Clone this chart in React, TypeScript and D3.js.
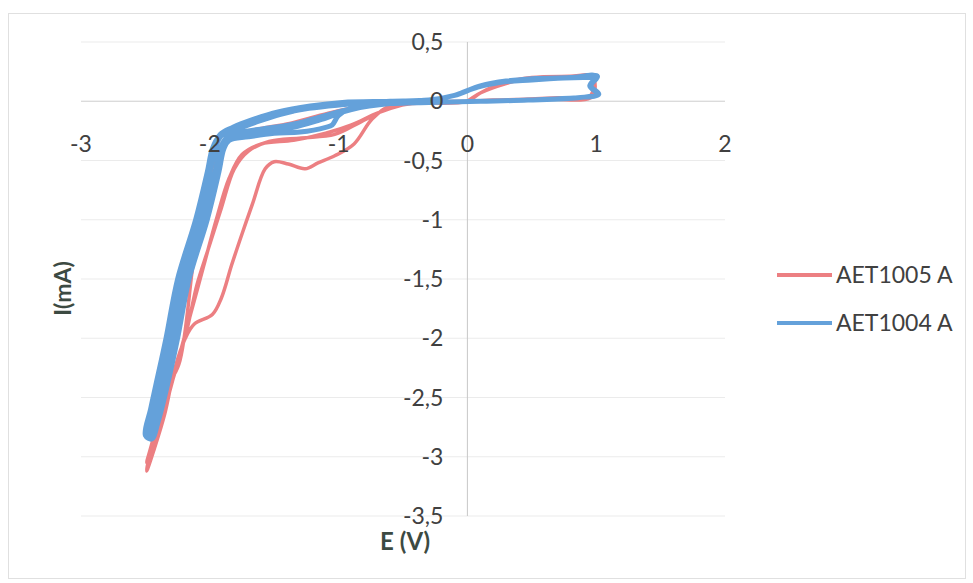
import React from "react";
import * as d3 from "d3";

// tick values / labels
const xTicks = [-3, -2, -1, 0, 1, 2];
const yTicks = [0.5, 0, -0.5, -1, -1.5, -2, -2.5, -3, -3.5];
const seriesNames = ["AET1005 A", "AET1004 A"];
const seriesColors = ["#ec7f82", "#64a1da"];

// AET1005 A : E (V) and I (mA)
const redE = [
  0, 0.1, 0.3, 0.5, 0.8, 0.97, 0.95, 0.7, 0.3, 0, -0.3, -0.5,
  -0.59, -0.74, -0.88, -1.03, -1.16, -1.26, -1.39, -1.5, -1.57, -1.67, -1.75, -1.83, -1.91, -1.98, -2.12, -2.19, -2.27, -2.35, -2.43, -2.49,
  -2.43, -2.36, -2.29, -2.18, -2.1, -2.01, -1.91, -1.81, -1.7, -1.54, -1.29, -1.03, -0.82, -0.61, -0.43, 0,
  0.1, 0.3, 0.5, 0.8, 0.97, 0.97, 0.6, 0.2, 0, -0.4,
  -0.5, -0.7, -0.9, -1.1, -1.35, -1.6, -1.75, -1.85, -1.95, -2.05, -2.15, -2.25, -2.35, -2.45, -2.49,
  -2.44, -2.35, -2.24, -2.12, -2.02, -1.95, -1.85, -1.6, -1.39, -1.08, -0.8, -0.5, 0,
];
const redI = [
  0, 0.07, 0.15, 0.2, 0.21, 0.21, 0.04, 0.03, 0.01, 0, -0.01, -0.02,
  -0.03, -0.15, -0.36, -0.46, -0.52, -0.57, -0.53, -0.51, -0.57, -0.87, -1.12, -1.38, -1.66, -1.8, -1.88, -2.0, -2.25, -2.64, -2.93, -3.12,
  -2.81, -2.58, -2.36, -1.94, -1.55, -1.24, -0.9, -0.57, -0.42, -0.34, -0.31, -0.28, -0.17, -0.06, -0.02, 0,
  0.07, 0.16, 0.2, 0.21, 0.21, 0.04, 0.02, 0.01, 0, -0.01,
  -0.03, -0.1, -0.2, -0.27, -0.33, -0.36, -0.45, -0.65, -1.0, -1.4, -1.8, -2.2, -2.6, -2.95, -3.05,
  -2.85, -2.45, -2.22, -1.3, -0.75, -0.45, -0.3, -0.23, -0.19, -0.1, -0.04, -0.01, 0,
];

// AET1004 A : three overlapping cycles
const blueE = [
  // cycle 1
  0.86, 0.47, 0.1, -0.3, -0.6, -0.9, -1.0, -1.05, -1.1, -1.3, -1.5, -1.7, -1.85,
  -1.89, -1.93, -2.02, -2.16, -2.25, -2.33, -2.4, -2.45,
  -2.5, -2.46, -2.42, -2.34, -2.25, -2.11, -2.02, -1.98, -1.93, -1.83, -1.7, -1.5, -1.23, -0.98, -0.6, -0.3,
  -0.1, 0.08, 0.26, 0.5, 0.8, 1.01, 0.96, 1.02, 0.86,
  // cycle 2
  0.47, 0.1, -0.3, -0.6, -0.9, -1.15, -1.35, -1.55, -1.75, -1.87,
  -1.92, -1.96, -2.05, -2.19, -2.28, -2.36, -2.42, -2.46,
  -2.48, -2.44, -2.4, -2.32, -2.23, -2.09, -2.0, -1.96, -1.91, -1.8, -1.65, -1.45, -1.2, -0.95, -0.6, -0.3,
  -0.1, 0.08, 0.26, 0.5, 0.8, 1.0, 0.95, 1.01, 0.86,
  // cycle 3
  0.47, 0.1, -0.3, -0.6, -0.85, -1.1, -1.3, -1.5, -1.7, -1.86,
  -1.9, -1.95, -2.06, -2.2, -2.29, -2.38, -2.44, -2.48,
  -2.49, -2.45, -2.41, -2.33, -2.24, -2.1, -2.01, -1.97, -1.92, -1.82, -1.68, -1.47, -1.22, -0.97, -0.6, -0.3,
  -0.1, 0.1, 0.3, 0.6, 0.9, 1.0,
];
const blueI = [
  // cycle 1
  0.03, 0.01, 0.0, -0.01, -0.02, -0.06, -0.12, -0.2, -0.22, -0.26, -0.27, -0.3, -0.33,
  -0.4, -0.6, -1.0, -1.5, -2.0, -2.4, -2.7, -2.85,
  -2.82, -2.6, -2.4, -2.0, -1.5, -1.0, -0.6, -0.4, -0.3, -0.26, -0.2, -0.12, -0.06, -0.03, 0.0, 0.01,
  0.05, 0.12, 0.16, 0.19, 0.2, 0.21, 0.13, 0.06, 0.03,
  // cycle 2
  0.01, 0.0, -0.01, -0.02, -0.07, -0.16, -0.22, -0.25, -0.28, -0.31,
  -0.4, -0.6, -1.0, -1.5, -2.0, -2.4, -2.65, -2.82,
  -2.8, -2.6, -2.4, -2.0, -1.5, -1.0, -0.6, -0.4, -0.29, -0.24, -0.18, -0.11, -0.05, -0.02, 0.0, 0.01,
  0.05, 0.12, 0.16, 0.18, 0.2, 0.21, 0.13, 0.06, 0.03,
  // cycle 3
  0.01, 0.0, -0.01, -0.02, -0.05, -0.12, -0.18, -0.22, -0.25, -0.29,
  -0.4, -0.6, -1.0, -1.5, -2.0, -2.4, -2.65, -2.8,
  -2.78, -2.6, -2.4, -2.0, -1.5, -1.0, -0.6, -0.4, -0.28, -0.22, -0.16, -0.09, -0.04, -0.01, 0.0, 0.01,
  0.05, 0.13, 0.17, 0.19, 0.2, 0.2,
];

const W = 973;
const H = 583;
const font = "Lato, 'Open Sans', sans-serif";
const textColor = "#404040";

export default function App() {
  const x = d3.scaleLinear().domain([-3, 2]).range([81, 725]);
  const y = d3.scaleLinear().domain([0.5, -3.5]).range([42, 516]);

  const line = d3
    .line<[number, number]>()
    .x((d) => x(d[0]))
    .y((d) => y(d[1]))
    .curve(d3.curveCatmullRom.alpha(0.5));

  const red = redE.map((e, i) => [e, redI[i]] as [number, number]);
  const blue = blueE.map((e, i) => [e, blueI[i]] as [number, number]);

  return (
    <div style={{ position: "absolute", left: 0, top: 0 }}>
      <svg width={W} height={H} style={{ display: "block", background: "#fff" }}>
        <rect x={8.5} y={13.5} width={957} height={565} fill="none" stroke="#e0e0e0" />

        {/* gridlines */}
        <g stroke="#ebebeb" strokeWidth={1}>
          {yTicks.map((t) => (
            <line key={t} x1={x(-3)} x2={x(2)} y1={y(t)} y2={y(t)} />
          ))}
        </g>

        {/* axes crossing at the origin */}
        <line x1={x(0)} x2={x(0)} y1={y(0.5)} y2={y(-3.5)} stroke="#c8c8c8" />
        <line x1={x(-3)} x2={x(2)} y1={y(0)} y2={y(0)} stroke="#d4d4d4" />

        {/* series */}
        <path d={line(red) || ""} fill="none" stroke={seriesColors[0]} strokeWidth={3.5} strokeLinejoin="round" />
        <path d={line(blue) || ""} fill="none" stroke={seriesColors[1]} strokeWidth={5} strokeLinejoin="round" />

        {/* tick labels */}
        <g fontFamily={font} fontSize={23} fill={textColor}>
          {yTicks.map((t) => (
            <text key={t} x={x(0) - 24} y={y(t) + 8} textAnchor="end">
              {d3.format(".1~f")(t).replace(".", ",").replace("−", "-")}
            </text>
          ))}
          {xTicks.map((t) => (
            <text key={t} x={x(t)} y={152} textAnchor="middle">
              {String(t)}
            </text>
          ))}
        </g>

        {/* axis titles */}
        <text
          transform={`translate(71,${y(-1.58)}) rotate(-90)`}
          textAnchor="middle"
          fontFamily={font}
          fontSize={23}
          fontWeight="bold"
          fill="#3c4a42"
        >
          I(mA)
        </text>
        <text x={405} y={550} textAnchor="middle" fontFamily={font} fontSize={24} fontWeight="bold" fill="#3c4a42">
          E (V)
        </text>

        {/* legend */}
        {seriesNames.map((n, i) => (
          <g key={n} transform={`translate(777,${275 + i * 48})`}>
            <line x1={0} x2={55} y1={0} y2={0} stroke={seriesColors[i]} strokeWidth={4} />
            <text x={59} y={8} fontFamily={font} fontSize={23} fill={textColor}>
              {n}
            </text>
          </g>
        ))}
      </svg>
    </div>
  );
}
